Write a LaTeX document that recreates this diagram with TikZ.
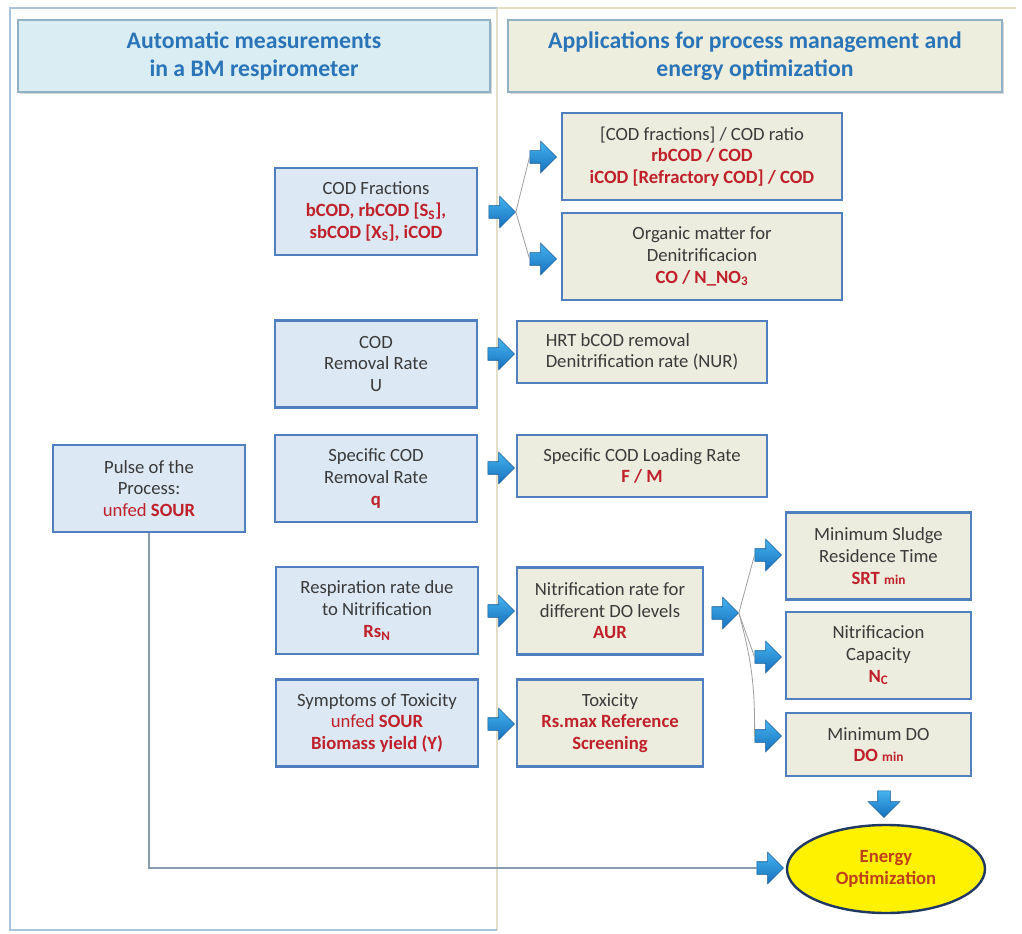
\documentclass[tikz,border=0pt]{standalone}
\usepackage{fontspec}
\setmainfont{Carlito}
\usetikzlibrary{shapes.arrows,shapes.geometric,shadows}
\definecolor{measfill}{HTML}{DCE8F3}
\definecolor{appfill}{HTML}{ECECDF}
\definecolor{meashead}{HTML}{DAEDF3}
\definecolor{apphead}{HTML}{EEEEDF}
\definecolor{boxline}{HTML}{4F7FBF}
\definecolor{headline}{HTML}{8FB3C4}
\definecolor{headblue}{HTML}{2A74B8}
\definecolor{valred}{HTML}{C0202A}
\definecolor{txtgrey}{HTML}{3A3A3A}
\definecolor{arrowtop}{HTML}{45B4EE}
\definecolor{arrowbot}{HTML}{1670BE}
\definecolor{panelblue}{HTML}{A8C3DE}
\definecolor{panelbeige}{HTML}{E2DFC6}
\definecolor{linkgrey}{HTML}{8A9BB0}
\definecolor{energyline}{HTML}{1F3864}
\definecolor{energytxt}{HTML}{C0401A}
\newcommand{\val}[1]{\textcolor{valred}{\bfseries #1}}
\newcommand{\low}[1]{{\fontsize{10}{10}\selectfont #1}}
\tikzset{
  measbox/.style={draw=boxline, line width=1.8pt, fill=measfill, align=center,
    text=txtgrey, font=\fontsize{14}{16.2}\selectfont,
    minimum width=151.5pt, minimum height=65pt, inner sep=2pt},
  appbox/.style={measbox, fill=appfill},
  headbox/.style={draw=headline, line width=1pt, align=center, text=headblue,
    font=\bfseries\fontsize{17.8}{21}\selectfont, minimum height=54pt,
    drop shadow={shadow xshift=1.5pt, shadow yshift=-1.5pt, opacity=0.3}},
  fatarrow/.style={single arrow, draw=arrowbot!80!black, line width=0.4pt,
    top color=arrowtop, bottom color=arrowbot,
    minimum width=21pt, minimum height=20pt, inner sep=4.5pt},
  fanline/.style={draw=gray!75, line width=0.6pt},
  linkline/.style={draw=linkgrey, line width=0.8pt}
}
\begin{document}
\begin{tikzpicture}[x=0.75pt,y=-0.75pt]
\fill[white] (0,0) rectangle (1022,934);
\useasboundingbox (0,0) rectangle (1022,934);
% panels
\draw[panelbeige, line width=0.8pt] (497,930) -- (497,8) -- (1016,8);
\draw[panelblue, line width=1pt] (497,8) -- (10,8) -- (10,930) -- (497,930);
% headers
\node[headbox, fill=meashead, minimum width=354pt] (hmeas) at (254,56)
  {Automatic measurements\\in a BM respirometer};
\node[headbox, fill=apphead, minimum width=370.5pt] (happ) at (755,56)
  {Applications for process management and\\energy optimization};
% measurements
\node[measbox] (fracs) at (376,211.5)
  {COD Fractions\\\val{bCOD, rbCOD [S\textsubscript{S}],}\\\val{sbCOD [X\textsubscript{S}], iCOD}};
\node[measbox] (urate) at (376,364) {COD\\Removal Rate\\U};
\node[measbox] (qrate) at (376,478.5) {Specific COD\\Removal Rate\\\val{q}};
\node[measbox, minimum width=144pt] (pulse) at (149,488.5)
  {Pulse of the\\Process:\\\textcolor{valred}{unfed} \val{SOUR}};
\node[measbox] (resp) at (377,610.5)
  {Respiration rate due\\to Nitrification\\\val{Rs\textsubscript{N}}};
\node[measbox] (symp) at (377,723)
  {Symptoms of Toxicity\\\textcolor{valred}{unfed} \val{SOUR}\\\val{Biomass yield (Y)}};
% applications
\node[appbox, minimum width=210pt] (ratio) at (702,156.5)
  {[COD fractions] / COD ratio\\\val{rbCOD / COD}\\\val{iCOD [Refractory COD] / COD}};
\node[appbox, minimum width=210pt] (organic) at (702,256.5)
  {Organic matter for\\Denitrificacion\\\val{CO / N\_NO\textsubscript{3}}};
\node[appbox, minimum width=187.5pt, minimum height=46.5pt, align=left] (hrt) at (642,352)
  {HRT bCOD removal\\Denitrification rate (NUR)};
\node[appbox, minimum width=187.5pt, minimum height=46.5pt] (loading) at (642,466)
  {Specific COD Loading Rate\\\val{F / M}};
\node[appbox, minimum width=139.5pt] (aur) at (610,611)
  {Nitrification rate for\\different DO levels\\\val{AUR}};
\node[appbox, minimum width=139.5pt] (tox) at (610,723)
  {Toxicity\\\val{Rs.max Reference}\\\val{Screening}};
\node[appbox, minimum width=138.75pt] (srt) at (878.5,556)
  {Minimum Sludge\\Residence Time\\\val{SRT \low{min}}};
\node[appbox, minimum width=138.75pt] (capacity) at (878.5,655.5)
  {Nitrificacion\\Capacity\\\val{N\textsubscript{C}}};
\node[appbox, minimum width=138.75pt, minimum height=47.25pt] (domin) at (878.5,744.5)
  {Minimum DO\\\val{DO \low{min}}};
\node[ellipse, draw=energyline, line width=1.8pt, fill=yellow, align=center,
  text=energytxt, font=\bfseries\fontsize{14}{16.2}\selectfont,
  minimum width=148.5pt, minimum height=66pt] (energy) at (886,869)
  {Energy\\Optimization};
% arrows
\node[fatarrow] (afracs) at (499,212) {};
\node[fatarrow] (aratio) at (540,157) {};
\node[fatarrow] (aorganic) at (540,259) {};
\node[fatarrow] (ahrt) at (498,354) {};
\node[fatarrow] (aload) at (498,468) {};
\node[fatarrow] (aaur) at (498,611) {};
\node[fatarrow] (atox) at (498,724) {};
\node[fatarrow] (anitr) at (722,613) {};
\node[fatarrow] (asrt) at (765,555) {};
\node[fatarrow] (acap) at (765,657) {};
\node[fatarrow] (ado) at (765,736) {};
\node[fatarrow, shape border rotate=270] (adown) at (884,801) {};
\node[fatarrow] (aenergy) at (767,868) {};
% fan lines
\draw[fanline] (afracs.east) -- (aratio.west);
\draw[fanline] (afracs.east) -- (aorganic.west);
\draw[fanline] (anitr.east) -- (asrt.west);
\draw[fanline] (anitr.east) -- (acap.west);
\draw[fanline] (anitr.east) to[bend left=8] (ado.west);
% pulse link
\coordinate (pbend) at (149,868);
\draw[linkline] (pulse.south) -- (pbend) -- (aenergy.west);
\end{tikzpicture}
\end{document}
